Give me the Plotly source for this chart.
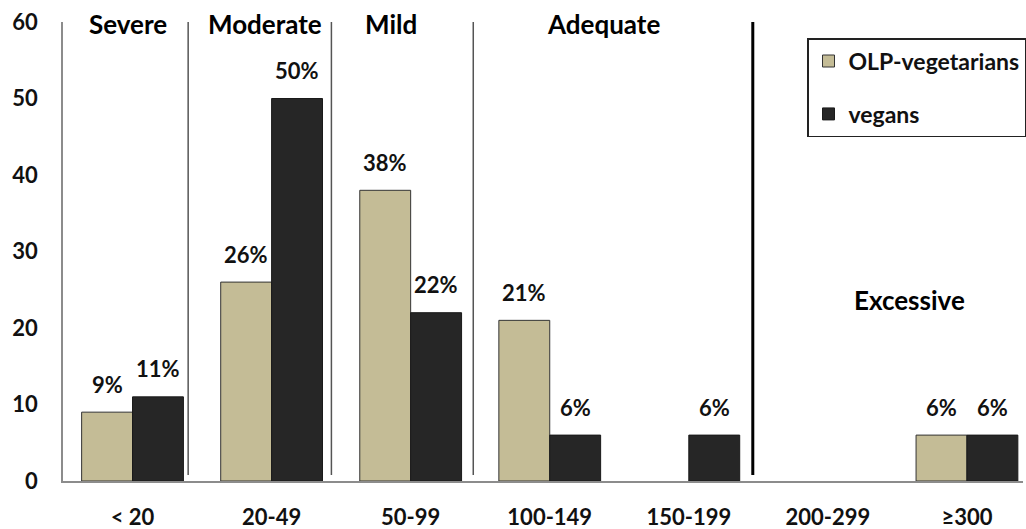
import plotly.graph_objects as go

# Iodine status bands (urinary iodine, µg/L) and share of each group (%)
categories = ["< 20", "20-49", "50-99", "100-149", "150-199", "200-299", "≥300"]
olp_vegetarians = [9, 26, 38, 21, 0, 0, 6]
vegans = [11, 50, 22, 6, 6, 0, 6]
series_names = ["OLP-vegetarians", "vegans"]

status_labels = ["Severe", "Moderate", "Mild", "Adequate"]
status_label_x = [-0.03, 0.95, 1.86, 3.39]
excessive_label = "Excessive"
divider_x = [0.40, 1.43, 2.45, 4.46]
y_ticks = [0, 10, 20, 30, 40, 50, 60]

FONT = "Lato, 'Open Sans', sans-serif"
TAN = "#C4BC96"
DARK = "#262626"
TXT = "#111111"


def outline(vals):
    # no outline on empty bars so they leave no trace on the axis
    return [1 if v > 0 else 0 for v in vals]


fig = go.Figure()
x_idx = list(range(len(categories)))
fig.add_trace(go.Bar(
    x=x_idx, y=olp_vegetarians, name=f"<b>{series_names[0]}</b>",
    marker=dict(color=TAN, line=dict(color="#333333", width=outline(olp_vegetarians))),
    legendgroup="a",
))
fig.add_trace(go.Bar(
    x=x_idx, y=vegans, name=f"<b>{series_names[1]}</b>",
    marker=dict(color=DARK, line=dict(color="#1a1a1a", width=outline(vegans))),
    legendgroup="b",
))

bargap = 0.268
bar_w = (1 - bargap) / 2
annotations = []
for vals, off in ((olp_vegetarians, -bar_w / 2), (vegans, bar_w / 2)):
    for i, v in enumerate(vals):
        if v > 0:
            annotations.append(dict(
                x=i + off, y=v, xref="x", yref="y", text=f"<b>{v}%</b>", showarrow=False,
                yanchor="middle", yshift=28, font=dict(family=FONT, size=22, color=TXT),
            ))

for lbl, lx in zip(status_labels, status_label_x):
    annotations.append(dict(
        x=lx, y=0.9956, xref="x", yref="paper", text=f"<b>{lbl}</b>", showarrow=False,
        yanchor="middle", font=dict(family=FONT, size=26, color="#000000"),
    ))
annotations.append(dict(
    x=5.59, y=23.7, xref="x", yref="y", text=f"<b>{excessive_label}</b>", showarrow=False,
    yanchor="middle", font=dict(family=FONT, size=26, color="#000000"),
))

shapes = []
for i, dx in enumerate(divider_x):
    last = i == len(divider_x) - 1
    shapes.append(dict(
        type="line", xref="x", yref="y", x0=dx, x1=dx, y0=0.8, y1=60,
        line=dict(color="#000000" if last else "#555555", width=3 if last else 1.5),
    ))

fig.update_layout(
    width=1026, height=529,
    margin=dict(l=63, r=0, t=22, b=48),
    paper_bgcolor="white", plot_bgcolor="white",
    barmode="group", bargap=bargap, bargroupgap=0,
    font=dict(family=FONT, size=22, color=TXT),
    showlegend=True,
    legend=dict(
        x=0.775, y=0.965, xanchor="left", yanchor="top",
        bordercolor="#222222", borderwidth=1.5, bgcolor="white",
        font=dict(family=FONT, size=23, color=TXT),
        tracegroupgap=20, traceorder="grouped",
    ),
    annotations=annotations,
    shapes=shapes,
    xaxis=dict(
        tickmode="array", tickvals=x_idx, ticktext=[f"<b>{c}</b>" for c in categories],
        range=[-0.5, 6.403], showline=True, linecolor="#8c8c8c", linewidth=1.5,
        ticks="outside", ticklen=16, tickcolor="rgba(0,0,0,0)", automargin=False,
        showgrid=False, zeroline=False, tickfont=dict(family=FONT, size=22, color=TXT),
    ),
    yaxis=dict(
        tickmode="array", tickvals=y_ticks, ticktext=[f"<b>{t}</b>" for t in y_ticks],
        range=[0, 60], showline=True, linecolor="#8c8c8c", linewidth=1.5,
        ticks="outside", ticklen=19, tickcolor="rgba(0,0,0,0)", automargin=False,
        showgrid=False, zeroline=False, tickfont=dict(family=FONT, size=22, color=TXT),
    ),
)

fig.write_html("out.html")
